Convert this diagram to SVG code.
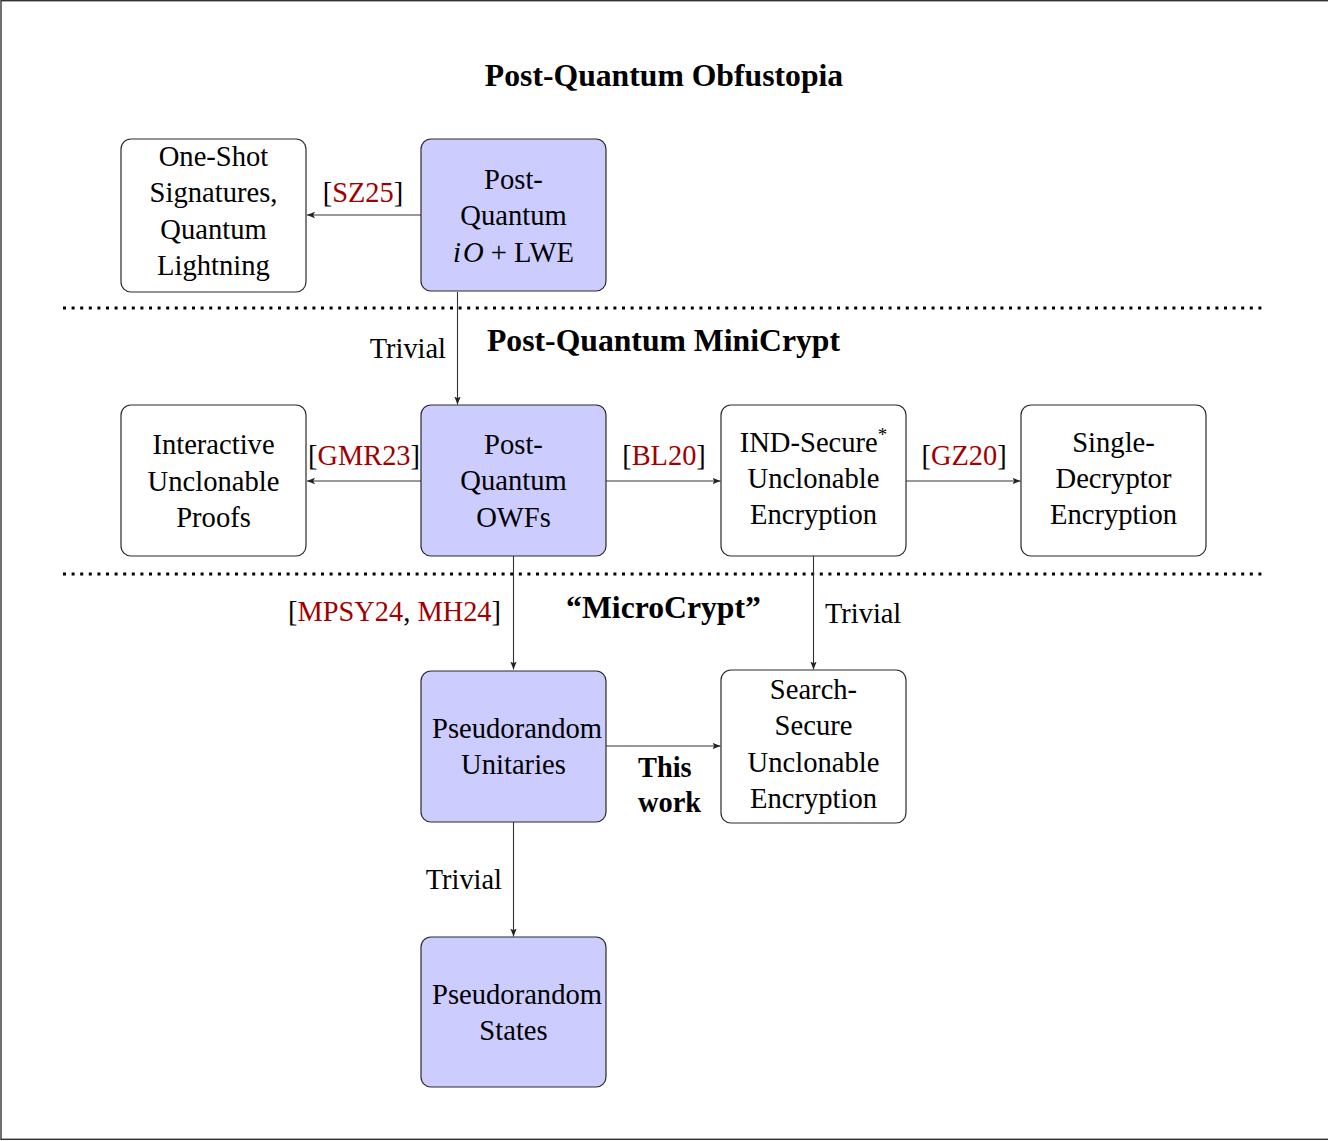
<svg xmlns="http://www.w3.org/2000/svg" width="1328" height="1141" viewBox="0 0 1328 1141">
<style>
text{font-family:"Liberation Serif","Times New Roman",serif;fill:#000}
.n{font-size:28.6px;text-anchor:middle}
.t{font-size:31.7px;font-weight:bold;text-anchor:middle}
.l{font-size:28.4px}
.c{fill:#a20000}
.box{stroke:#2a2a2a;stroke-width:1.2;fill:#fff}
.blue{fill:#ccccff}
.e{stroke:#333;stroke-width:1.1;fill:none;marker-end:url(#ah)}
.dot{stroke:#000;stroke-width:3.2;stroke-dasharray:3 5.6;fill:none}
</style>
<defs>
<marker id="ah" markerUnits="userSpaceOnUse" markerWidth="10" markerHeight="8" refX="8" refY="3.5" orient="auto">
<path d="M0,0.3 L8,3.5 L0,6.7 L1.8,3.5 z" fill="#222"/>
</marker>
</defs>
<rect x="1" y="0.7" width="1340" height="1138.6" fill="none" stroke="#333" stroke-width="1.4"/>
<g id="titles">
<text class="t" x="664" y="86">Post-Quantum Obfustopia</text>
<text class="t" x="663.5" y="351">Post-Quantum MiniCrypt</text>
<text class="t" x="663.5" y="618">“MicroCrypt”</text>
</g>
<g id="separators">
<line class="dot" x1="63" y1="308" x2="1266" y2="308"/>
<line class="dot" x1="63" y1="574" x2="1266" y2="574"/>
</g>
<g id="connectors">
<line class="e" x1="421" y1="215" x2="307" y2="215"/>
<line class="e" x1="457.5" y1="292" x2="457.5" y2="404.5"/>
<line class="e" x1="421" y1="481" x2="307" y2="481"/>
<line class="e" x1="606" y1="481" x2="720.5" y2="481"/>
<line class="e" x1="906" y1="481" x2="1020.5" y2="481"/>
<line class="e" x1="513.5" y1="556" x2="513.5" y2="669.5"/>
<line class="e" x1="813.5" y1="556" x2="813.5" y2="669.5"/>
<line class="e" x1="606" y1="746" x2="720.5" y2="746"/>
<line class="e" x1="513.5" y1="822" x2="513.5" y2="936.5"/>
<text class="l" x="363" y="201.5" text-anchor="middle">[<tspan class="c">SZ25</tspan>]</text>
<text class="l" x="446" y="358" text-anchor="end">Trivial</text>
<text class="l" x="364" y="465" text-anchor="middle">[<tspan class="c">GMR23</tspan>]</text>
<text class="l" x="664" y="465" text-anchor="middle">[<tspan class="c">BL20</tspan>]</text>
<text class="l" x="964" y="465" text-anchor="middle">[<tspan class="c">GZ20</tspan>]</text>
<text class="l" x="501" y="621" text-anchor="end">[<tspan class="c">MPSY24</tspan>, <tspan class="c">MH24</tspan>]</text>
<text class="l" x="825" y="623" text-anchor="start">Trivial</text>
<text class="l" x="638" y="777" font-weight="bold">This</text>
<text class="l" x="638" y="812" font-weight="bold">work</text>
<text class="l" x="502" y="888.5" text-anchor="end">Trivial</text>
</g>
<g id="oneshot">
<rect class="box" x="121" y="139" width="185" height="153" rx="10"/>
<text class="n" x="213.5" y="165.5">One-Shot</text>
<text class="n" x="213.5" y="202">Signatures,</text>
<text class="n" x="213.5" y="238.5">Quantum</text>
<text class="n" x="213.5" y="275">Lightning</text>
</g>
<g id="pqio">
<rect class="box blue" x="421" y="139" width="185" height="152" rx="10"/>
<text class="n" x="513.5" y="188.5">Post-</text>
<text class="n" x="513.5" y="225">Quantum</text>
<text class="n" x="513.5" y="261.5"><tspan font-style="italic">i</tspan><tspan font-style="italic" dx="2">O</tspan> + LWE</text>
</g>
<g id="iup">
<rect class="box" x="121" y="405" width="185" height="151" rx="10"/>
<text class="n" x="213.5" y="454">Interactive</text>
<text class="n" x="213.5" y="490.5">Unclonable</text>
<text class="n" x="213.5" y="526.5">Proofs</text>
</g>
<g id="pqowf">
<rect class="box blue" x="421" y="405" width="185" height="151" rx="10"/>
<text class="n" x="513.5" y="453.5">Post-</text>
<text class="n" x="513.5" y="490">Quantum</text>
<text class="n" x="513.5" y="526.5">OWFs</text>
</g>
<g id="indue">
<rect class="box" x="721" y="405" width="185" height="151" rx="10"/>
<text class="n" x="813.5" y="451.5">IND-Secure<tspan font-size="19" dy="-11">*</tspan></text>
<text class="n" x="813.5" y="488">Unclonable</text>
<text class="n" x="813.5" y="524">Encryption</text>
</g>
<g id="sde">
<rect class="box" x="1021" y="405" width="185" height="151" rx="10"/>
<text class="n" x="1113.5" y="451.5">Single-</text>
<text class="n" x="1113.5" y="488">Decryptor</text>
<text class="n" x="1113.5" y="524">Encryption</text>
</g>
<g id="pru">
<rect class="box blue" x="421" y="671" width="185" height="151" rx="10"/>
<text class="n" x="517" y="738">Pseudorandom</text>
<text class="n" x="513.5" y="774">Unitaries</text>
</g>
<g id="ssue">
<rect class="box" x="721" y="670" width="185" height="153" rx="10"/>
<text class="n" x="813.5" y="698.5">Search-</text>
<text class="n" x="813.5" y="735">Secure</text>
<text class="n" x="813.5" y="771.5">Unclonable</text>
<text class="n" x="813.5" y="808">Encryption</text>
</g>
<g id="prs">
<rect class="box blue" x="421" y="937" width="185" height="150" rx="10"/>
<text class="n" x="517" y="1003.5">Pseudorandom</text>
<text class="n" x="513.5" y="1040">States</text>
</g>
</svg>
